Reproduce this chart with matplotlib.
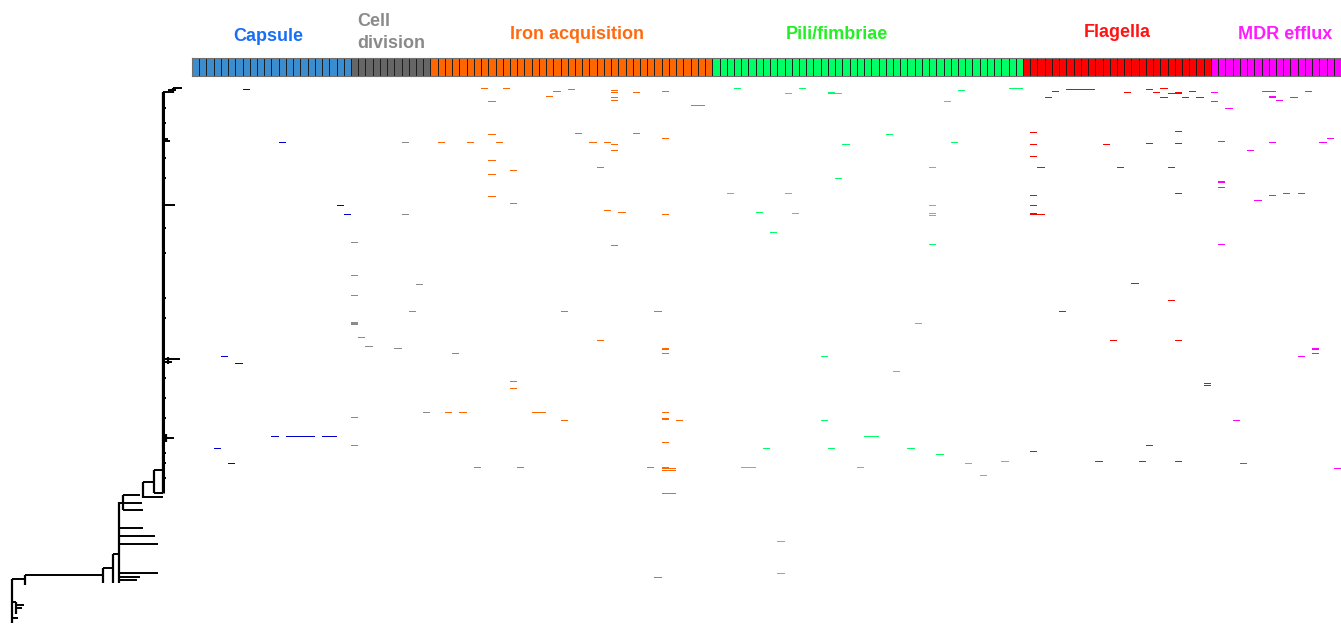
"""Gene absence matrix for six virulence categories beside the genome phylogeny."""

from __future__ import annotations

import matplotlib.pyplot as plt
import numpy as np

OUTPUT = "out.png"
ROW_COUNT = 546  # genomes, top to bottom in tree order

CATEGORIES = [
    "Capsule",
    "Cell\ndivision",
    "Iron acquisition",
    "Pili/fimbriae",
    "Flagella",
    "MDR efflux",
]
GENE_COUNTS = [22, 11, 39, 43, 26, 18]
HEADER_COLORS = ["#3A8DCF", "#666666", "#FF6600", "#00FF66", "#FF0000", "#FF00FF"]
CELL_COLORS = ["#0000CC", "#8A8A8A", "#FF6600", "#00FF66", "#FF0000", "#FF00FF"]
LABEL_COLORS = ["#1A6EF5", "#8A8A8A", "#FF6A10", "#22F022", "#FF1414", "#FF1CFF"]

# Absent genes: gene column (0-158) and genome row for each missing call.
CAPSULE_GENES = [7, 12, 20, 21, 4, 6, 11, 13, 14, 15, 16, 18, 19, 3, 5]
CAPSULE_GENOMES = [11, 64, 127, 136, 278, 285, 358, 358, 358, 358, 358, 358, 358, 370, 385]

DIVISION_GENES = [29, 29, 22, 22, 31, 22, 30, 22, 22, 22, 23, 24, 28, 32, 22, 22]
DIVISION_GENOMES = [64, 136, 164, 197, 206, 217, 233, 244, 245, 246, 259, 268, 270, 334, 339, 367]

IRON_GENES = [
    40, 43, 50, 52, 49, 58, 58, 58, 58, 61, 65, 69, 70, 41,
    41, 53, 61, 65, 34, 38, 42, 55, 57, 58, 58, 41, 44, 56, 41, 41,
    44, 57, 59, 65, 58, 51, 64, 56, 65, 65, 65, 36, 44, 44,
    35, 37, 47, 48, 51, 65, 65, 65, 67, 65, 39, 45, 63,
    65, 65, 66, 65, 66, 65, 66, 64,
]
IRON_GENOMES = [
    10, 10, 13, 11, 18, 12, 14, 19, 22, 14, 13, 27, 27, 23,
    56, 55, 55, 60, 64, 64, 64, 64, 64, 66, 72, 82, 92, 89, 96, 118,
    125, 132, 134, 136, 167, 233, 233, 262, 270, 271, 275, 275, 303, 310,
    334, 334, 334, 334, 342, 334, 340, 341, 342, 364, 389, 389, 389,
    389, 390, 390, 392, 392, 415, 415, 499,
]

PILI_GENES = [
    75, 82, 84, 88, 88, 89, 106, 113, 114, 104, 96, 90, 105, 102, 89,
    74, 82, 78, 83, 102, 102, 102, 80, 102, 100, 87, 97, 87, 93, 94,
    79, 88, 99, 103, 107, 112, 109, 76, 77, 92, 81, 81,
]
PILI_GENOMES = [
    10, 15, 10, 14, 15, 15, 12, 10, 10, 23, 56, 66, 64, 89, 100,
    115, 115, 134, 135, 127, 135, 137, 154, 166, 245, 278, 293, 342, 358, 358,
    370, 370, 370, 376, 385, 383, 397, 389, 389, 389, 463, 495,
]

FLAGELLA_GENES = [
    119, 121, 122, 123, 124, 118, 129, 132, 134, 133, 135, 136, 136, 138,
    134, 137, 139, 116, 116, 116, 117, 126, 132, 136, 136, 128, 135,
    116, 116, 136, 116, 116, 117, 130, 135, 120, 127, 136, 140, 140,
    132, 116, 125, 131, 136,
]
FLAGELLA_GENOMES = [
    13, 11, 11, 11, 11, 19, 14, 11, 10, 14, 15, 15, 14, 13,
    19, 19, 19, 54, 66, 78, 89, 66, 65, 53, 65, 89, 89,
    117, 127, 115, 135, 136, 136, 205, 222, 233, 262, 262, 305, 307,
    367, 373, 383, 383, 383,
]

EFFLUX_GENES = [
    141, 141, 143, 148, 149, 149, 149, 150, 152, 154, 142, 149, 146, 156, 157,
    142, 142, 142, 149, 151, 153, 147, 142, 155, 155, 155, 153, 144, 145, 158,
]
EFFLUX_GENOMES = [
    14, 23, 30, 13, 13, 18, 19, 22, 19, 13, 63, 64, 72, 64, 60,
    103, 104, 109, 117, 115, 115, 122, 166, 270, 271, 275, 278, 342, 385, 390,
]

ABSENCES = [
    (CAPSULE_GENES, CAPSULE_GENOMES),
    (DIVISION_GENES, DIVISION_GENOMES),
    (IRON_GENES, IRON_GENOMES),
    (PILI_GENES, PILI_GENOMES),
    (FLAGELLA_GENES, FLAGELLA_GENOMES),
    (EFFLUX_GENES, EFFLUX_GENOMES),
]

# Rectangular phylogram: vertical connectors (depth, first row, last row)
# and horizontal branches (row, parent depth, child depth).
TREE_V_DEPTH = [0.163, 0.173, 0.168, 0.166, 0.154, 0.143, 0.123, 0.119, 0.113, 0.103, 0.025, 0.012, 0.016]
TREE_V_TOP = [14, 10, 279, 356, 392, 404, 417, 424, 476, 490, 497, 501, 524]
TREE_V_BOTTOM = [415, 15, 286, 364, 415, 420, 432, 505, 505, 505, 507, 545, 536]

TREE_H_ROW = [
    14, 10, 12, 61, 63, 127, 281, 284, 360, 392, 404, 415, 419, 417,
    425, 432, 450, 458, 466, 495, 499, 502, 476, 490, 497, 501,
    524, 530, 527, 540,
    30, 45, 80, 100, 150, 175, 220, 240, 300, 320, 340, 375, 385, 400,
]
TREE_H_FROM = [
    0.163, 0.173, 0.168, 0.164, 0.163, 0.163, 0.163, 0.163, 0.163, 0.154, 0.143, 0.154, 0.143, 0.123,
    0.119, 0.123, 0.119, 0.119, 0.119, 0.119, 0.119, 0.119, 0.113, 0.103, 0.025, 0.012,
    0.012, 0.016, 0.016, 0.012,
    0.163, 0.163, 0.163, 0.163, 0.163, 0.163, 0.163, 0.163, 0.163, 0.163, 0.163, 0.163, 0.163, 0.163,
]
TREE_H_TO = [
    0.173, 0.182, 0.176, 0.168, 0.170, 0.175, 0.180, 0.172, 0.174, 0.163, 0.154, 0.163, 0.163, 0.140,
    0.142, 0.143, 0.143, 0.155, 0.158, 0.158, 0.140, 0.137, 0.119, 0.113, 0.103, 0.025,
    0.016, 0.022, 0.024, 0.018,
    0.166, 0.166, 0.166, 0.166, 0.166, 0.166, 0.166, 0.166, 0.166, 0.166, 0.166, 0.166, 0.166, 0.166,
]

# Label anchors: x in gene columns, baseline in pixels from the figure top.
LABEL_X = [10.5, 22.8, 53.3, 89.3, 128.1, 151.3]
LABEL_BASELINE = [41, 26, 39, 39, 37, 39]
LABEL_ALIGN = ["center", "left", "center", "center", "center", "center"]


def main() -> None:
    plt.rcParams.update({"font.family": ["Liberation Sans", "DejaVu Sans"]})
    width_px, height_px = 1341, 624
    figure = plt.figure(figsize=(width_px / 100, height_px / 100), dpi=100)

    left, right, top = 192, 1341, 78
    header_top, header_bottom = 58, 76
    gene_total = sum(GENE_COUNTS)

    matrix = figure.add_axes(
        (left / width_px, 0, (right - left) / width_px, (height_px - top) / height_px)
    )
    tree = figure.add_axes((0, 0, left / width_px, (height_px - top) / height_px))
    header = figure.add_axes(
        (
            left / width_px,
            (height_px - header_bottom) / height_px,
            (right - left) / width_px,
            (header_bottom - header_top) / height_px,
        )
    )

    # Category header strip, one box per gene.
    box_colors = np.repeat(HEADER_COLORS, GENE_COUNTS)
    header.bar(
        np.arange(gene_total),
        1,
        width=1,
        align="edge",
        color=box_colors,
        edgecolor="#1E1E1E",
        linewidth=0.7,
    )
    header.set_xlim(0, gene_total)
    header.set_ylim(0, 1)
    header.set_xticks([])
    header.set_yticks([])
    for spine in header.spines.values():
        spine.set_color("#707070")
        spine.set_linewidth(0.8)

    band_px = header_bottom - header_top
    for label, color, x, baseline, align in zip(
        CATEGORIES, LABEL_COLORS, LABEL_X, LABEL_BASELINE, LABEL_ALIGN, strict=True
    ):
        for line_index, line in enumerate(label.split("\n")):
            y = 1 + (header_top - (baseline + 22 * line_index)) / band_px
            header.text(
                x,
                y,
                line,
                transform=header.get_xaxis_transform(),
                ha=align,
                va="baseline",
                fontsize=13,
                fontweight="bold",
                color=color,
                clip_on=False,
            )

    # Absence calls drawn as one-genome-high cells, snapped to pixel rows.
    for (genes, genomes), color in zip(ABSENCES, CELL_COLORS, strict=True):
        matrix.barh(
            genomes,
            1,
            left=genes,
            height=1.0,
            align="edge",
            color=color,
            linewidth=0,
        )
    matrix.set_xlim(0, gene_total)
    matrix.set_ylim(ROW_COUNT, 0)
    matrix.axis("off")

    tree.vlines(TREE_V_DEPTH, TREE_V_TOP, TREE_V_BOTTOM, color="black", linewidth=1.6)
    tree.vlines(TREE_V_DEPTH[:1], TREE_V_TOP[:1], TREE_V_BOTTOM[:1], color="black", linewidth=2.2)
    tree.hlines(TREE_H_ROW, TREE_H_FROM, TREE_H_TO, color="black", linewidth=1.4)
    tree.set_xlim(0, 0.192)
    tree.set_ylim(ROW_COUNT, 0)
    tree.axis("off")

    figure.savefig(OUTPUT, dpi=100)
    plt.close(figure)


if __name__ == "__main__":
    main()
